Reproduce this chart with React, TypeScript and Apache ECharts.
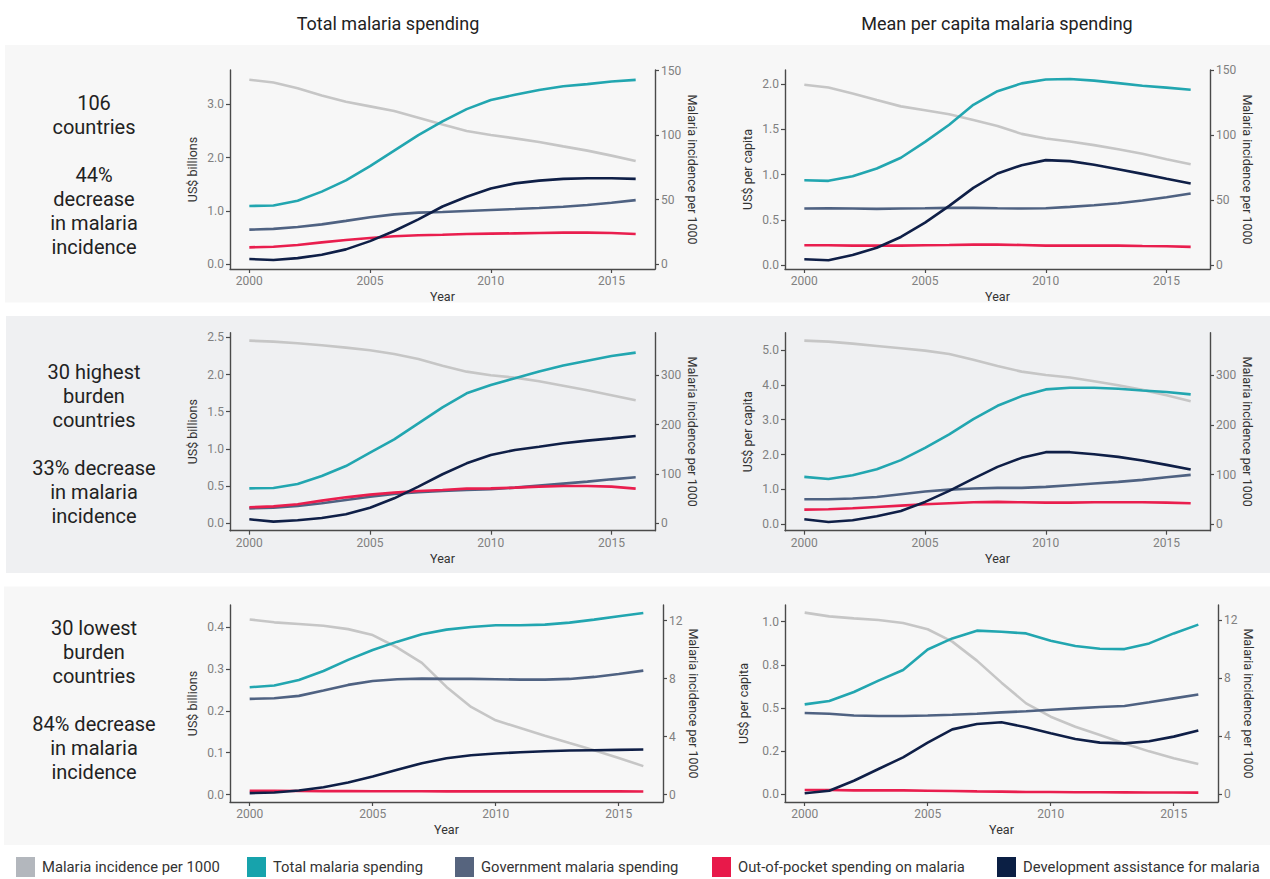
import React, { useEffect, useRef } from "react";
import * as echarts from "echarts";

// ---------- data ----------
const years = [2000, 2001, 2002, 2003, 2004, 2005, 2006, 2007, 2008, 2009, 2010, 2011, 2012, 2013, 2014, 2015, 2016];
const seriesNames = [
  "Malaria incidence per 1000",
  "Total malaria spending",
  "Government malaria spending",
  "Out-of-pocket spending on malaria",
  "Development assistance for malaria",
];
const columnTitles = ["Total malaria spending", "Mean per capita malaria spending"];
const rowLabels = [
  "106\ncountries\n\n44%\ndecrease\nin malaria\nincidence",
  "30 highest\nburden\ncountries\n\n33% decrease\nin malaria\nincidence",
  "30 lowest\nburden\ncountries\n\n84% decrease\nin malaria\nincidence",
];
const leftAxisNames = ["US$ billions", "US$ per capita", "US$ billions", "US$ per capita", "US$ billions", "US$ per capita"];
const rightAxisName = "Malaria incidence per 1000";
const xAxisName = "Year";
const xTicks = [2000, 2005, 2010, 2015];

// Panel 1: Total spending, 106 countries
const p1Incidence = [142.8, 140.7, 136.3, 130.7, 125.8, 122.2, 118.6, 113.4, 108.2, 103.1, 100.0, 97.4, 94.6, 91.2, 87.9, 84.0, 79.9];
const p1Total = [1.09, 1.10, 1.19, 1.36, 1.57, 1.84, 2.13, 2.42, 2.68, 2.91, 3.08, 3.18, 3.27, 3.34, 3.38, 3.43, 3.46];
const p1Gov = [0.645, 0.66, 0.695, 0.745, 0.81, 0.877, 0.933, 0.965, 0.977, 0.996, 1.015, 1.033, 1.052, 1.077, 1.109, 1.152, 1.20];
const p1Oop = [0.313, 0.325, 0.357, 0.407, 0.45, 0.489, 0.52, 0.539, 0.551, 0.564, 0.57, 0.576, 0.582, 0.589, 0.589, 0.582, 0.564];
const p1Dev = [0.094, 0.075, 0.11, 0.175, 0.275, 0.43, 0.62, 0.84, 1.08, 1.265, 1.42, 1.515, 1.566, 1.60, 1.61, 1.61, 1.60];

// Panel 2: Per capita, 106 countries
const p2Incidence = [139.0, 136.9, 132.3, 127.2, 122.3, 119.3, 116.2, 111.8, 107.2, 101.1, 97.5, 95.2, 92.4, 89.3, 85.7, 81.6, 77.6];
const p2Total = [0.937, 0.93, 0.98, 1.066, 1.185, 1.36, 1.55, 1.77, 1.92, 2.007, 2.05, 2.055, 2.037, 2.01, 1.98, 1.96, 1.937];
const p2Gov = [0.624, 0.627, 0.624, 0.62, 0.624, 0.627, 0.631, 0.631, 0.627, 0.624, 0.627, 0.642, 0.66, 0.683, 0.712, 0.749, 0.79];
const p2Oop = [0.218, 0.218, 0.214, 0.214, 0.214, 0.218, 0.221, 0.225, 0.225, 0.221, 0.214, 0.214, 0.214, 0.214, 0.21, 0.207, 0.2];
const p2Dev = [0.063, 0.052, 0.11, 0.19, 0.31, 0.469, 0.653, 0.852, 1.011, 1.103, 1.159, 1.148, 1.107, 1.059, 1.007, 0.952, 0.90];

// Panel 3: Total spending, 30 highest burden
const p3Incidence = [370.3, 368.2, 364.9, 360.8, 356.1, 350.7, 343.2, 333.1, 319.6, 307.4, 300.0, 295.3, 287.8, 279.0, 269.6, 259.5, 249.3];
const p3Total = [0.47, 0.475, 0.529, 0.636, 0.77, 0.95, 1.129, 1.344, 1.559, 1.747, 1.86, 1.949, 2.04, 2.12, 2.186, 2.249, 2.294];
const p3Gov = [0.20, 0.21, 0.233, 0.269, 0.314, 0.358, 0.394, 0.417, 0.435, 0.448, 0.457, 0.479, 0.506, 0.533, 0.56, 0.591, 0.618];
const p3Oop = [0.215, 0.228, 0.255, 0.305, 0.349, 0.385, 0.412, 0.435, 0.448, 0.466, 0.47, 0.479, 0.493, 0.502, 0.502, 0.493, 0.466];
const p3Dev = [0.054, 0.022, 0.04, 0.072, 0.121, 0.21, 0.336, 0.493, 0.659, 0.806, 0.918, 0.986, 1.03, 1.075, 1.111, 1.142, 1.174];

// Panel 4: Per capita, 30 highest burden
const p4Incidence = [369.7, 367.7, 363.7, 359.0, 354.3, 349.6, 342.9, 331.5, 318.8, 307.4, 300.7, 295.4, 288.0, 280.0, 270.6, 259.9, 247.8];
const p4Total = [1.36, 1.30, 1.408, 1.58, 1.84, 2.19, 2.577, 3.017, 3.40, 3.678, 3.87, 3.918, 3.918, 3.889, 3.84, 3.793, 3.726];
const p4Gov = [0.718, 0.718, 0.738, 0.785, 0.862, 0.939, 0.996, 1.025, 1.044, 1.044, 1.073, 1.121, 1.169, 1.216, 1.274, 1.351, 1.418];
const p4Oop = [0.421, 0.431, 0.46, 0.498, 0.536, 0.575, 0.603, 0.632, 0.642, 0.632, 0.623, 0.623, 0.632, 0.632, 0.632, 0.623, 0.603];
const p4Dev = [0.144, 0.067, 0.115, 0.23, 0.383, 0.642, 0.958, 1.312, 1.648, 1.906, 2.069, 2.069, 2.011, 1.935, 1.83, 1.705, 1.571];

// Panel 5: Total spending, 30 lowest burden
const p5Incidence = [12.09, 11.89, 11.77, 11.65, 11.42, 11.01, 10.15, 9.09, 7.43, 6.05, 5.12, 4.59, 4.06, 3.55, 3.05, 2.52, 1.96];
const p5Total = [0.2566, 0.2606, 0.274, 0.2956, 0.322, 0.3458, 0.3657, 0.3833, 0.3944, 0.4008, 0.4048, 0.4048, 0.4064, 0.4112, 0.4183, 0.4263, 0.4343];
const p5Gov = [0.2287, 0.2303, 0.2359, 0.2486, 0.2622, 0.2717, 0.2757, 0.2773, 0.2765, 0.2765, 0.2757, 0.2749, 0.2749, 0.2765, 0.2813, 0.2884, 0.2964];
const p5Oop = [0.009, 0.009, 0.0085, 0.008, 0.008, 0.0078, 0.0077, 0.0076, 0.0075, 0.0075, 0.0075, 0.0075, 0.0075, 0.0075, 0.0076, 0.0075, 0.007];
const p5Dev = [0.0032, 0.0048, 0.0096, 0.0175, 0.0287, 0.043, 0.059, 0.0749, 0.0869, 0.094, 0.098, 0.1012, 0.1036, 0.1052, 0.106, 0.1068, 0.1076];

// Panel 6: Per capita, 30 lowest burden
const p6Incidence = [12.51, 12.25, 12.11, 12.0, 11.79, 11.36, 10.51, 9.2, 7.68, 6.25, 5.33, 4.64, 4.07, 3.49, 2.94, 2.46, 2.07];
const p6Total = [0.52, 0.54, 0.592, 0.658, 0.72, 0.839, 0.903, 0.948, 0.942, 0.932, 0.89, 0.859, 0.843, 0.841, 0.874, 0.932, 0.983];
const p6Gov = [0.47, 0.466, 0.456, 0.453, 0.453, 0.456, 0.46, 0.466, 0.474, 0.48, 0.489, 0.497, 0.505, 0.511, 0.532, 0.555, 0.578];
const p6Oop = [0.023, 0.023, 0.021, 0.021, 0.021, 0.019, 0.017, 0.015, 0.0135, 0.0116, 0.0116, 0.01, 0.01, 0.0095, 0.009, 0.0085, 0.008];
const p6Dev = [0.004, 0.019, 0.077, 0.145, 0.213, 0.298, 0.375, 0.406, 0.416, 0.387, 0.352, 0.319, 0.298, 0.294, 0.306, 0.333, 0.369];

// tick values and labels
const p1LeftTicks = [0, 1, 2, 3];
const p1LeftLabels = ["0.0", "1.0", "2.0", "3.0"];
const p2LeftTicks = [0, 0.5, 1, 1.5, 2];
const p2LeftLabels = ["0.0", "0.5", "1.0", "1.5", "2.0"];
const p3LeftTicks = [0, 0.5, 1, 1.5, 2, 2.5];
const p3LeftLabels = ["0.0", "0.5", "1.0", "1.5", "2.0", "2.5"];
const p4LeftTicks = [0, 1, 2, 3, 4, 5];
const p4LeftLabels = ["0.0", "1.0", "2.0", "3.0", "4.0", "5.0"];
const p5LeftTicks = [0, 0.1, 0.2, 0.3, 0.4];
const p5LeftLabels = ["0.0", "0.1", "0.2", "0.3", "0.4"];
const p6LeftTicks = [0, 0.25, 0.5, 0.75, 1];
const p6LeftLabels = ["0.0", "0.2", "0.5", "0.8", "1.0"];
const rightTicksTop = [0, 50, 100, 150];
const rightTicksMid = [0, 100, 200, 300];
const rightTicksLow = [0, 4, 8, 12];

const panelData = [
  { series: [p1Incidence, p1Total, p1Gov, p1Oop, p1Dev], lt: p1LeftTicks, ll: p1LeftLabels, rt: rightTicksTop },
  { series: [p2Incidence, p2Total, p2Gov, p2Oop, p2Dev], lt: p2LeftTicks, ll: p2LeftLabels, rt: rightTicksTop },
  { series: [p3Incidence, p3Total, p3Gov, p3Oop, p3Dev], lt: p3LeftTicks, ll: p3LeftLabels, rt: rightTicksMid },
  { series: [p4Incidence, p4Total, p4Gov, p4Oop, p4Dev], lt: p4LeftTicks, ll: p4LeftLabels, rt: rightTicksMid },
  { series: [p5Incidence, p5Total, p5Gov, p5Oop, p5Dev], lt: p5LeftTicks, ll: p5LeftLabels, rt: rightTicksLow },
  { series: [p6Incidence, p6Total, p6Gov, p6Oop, p6Dev], lt: p6LeftTicks, ll: p6LeftLabels, rt: rightTicksLow },
];

// ---------- layout & style ----------
const FONT = "Roboto, 'Noto Sans', sans-serif";
const lineColors = ["#c6c6c6", "#22a6b0", "#4f6282", "#e91e4e", "#0f1f47"];
const legendColors = ["#b3b7bd", "#17a3ac", "#56647e", "#e8194a", "#0b1f44"];
const legendLeft = [16, 247, 455, 712, 997];

// pixel layout of each panel: plot box, pixel of zero, pixels per unit (left / right axes)
const panelLayout = [
  { l: 230, r: 655, t: 70, b: 269, y0L: 264, pL: 53.22, y0R: 264, pR: 1.29, gapL: 31, gapR: 31 },
  { l: 785, r: 1210, t: 70, b: 269, y0L: 265, pL: 90.5, y0R: 265, pR: 1.297, gapL: 31, gapR: 31 },
  { l: 230, r: 655, t: 332.7, b: 530.7, y0L: 523.3, pL: 74.4, y0R: 523.3, pR: 0.4933, gapL: 31, gapR: 31 },
  { l: 785, r: 1210, t: 332.7, b: 530.7, y0L: 524.3, pL: 34.86, y0R: 524.3, pR: 0.4967, gapL: 31, gapR: 31 },
  { l: 230, r: 663, t: 605, b: 802, y0L: 794.5, pL: 418, y0R: 794.5, pR: 14.48, gapL: 31, gapR: 23.5 },
  { l: 785, r: 1218, t: 605, b: 802, y0L: 794, pL: 172.3, y0R: 794, pR: 14.5, gapL: 35, gapR: 23.5 },
];

const AXIS_COLOR = "#4a4a4a";
const LABEL_COLOR = "#808080";
const NAME_COLOR = "#333333";

function labelFor(ticks: number[], labels: string[]) {
  return (v: number) => {
    const i = ticks.findIndex((t) => Math.abs(t - v) < 1e-9);
    return i >= 0 ? labels[i] : "";
  };
}

function buildOption() {
  const grid = panelLayout.map((p) => ({
    left: p.l,
    top: p.t,
    width: p.r - p.l,
    height: p.b - p.t,
    containLabel: false,
  }));

  const axisLine = { show: true, onZero: false, lineStyle: { color: AXIS_COLOR, width: 1.4 } };
  const axisTickStyle = { color: AXIS_COLOR, width: 1.2 };

  const xAxis = panelLayout.map((p, i) => ({
    type: "value",
    gridIndex: i,
    min: 1999.2,
    max: 2016.8,
    axisLine,
    axisTick: { show: true, length: 4, customValues: xTicks, lineStyle: axisTickStyle },
    axisLabel: {
      customValues: xTicks,
      formatter: (v: number) => String(v),
      color: LABEL_COLOR,
      fontSize: 12,
      fontFamily: FONT,
      margin: 6,
    },
    splitLine: { show: false },
    name: xAxisName,
    nameLocation: "middle",
    nameGap: 21,
    nameTextStyle: { color: NAME_COLOR, fontSize: 12.5, fontFamily: FONT },
  }));

  const yAxis: any[] = [];
  panelLayout.forEach((p, i) => {
    const d = panelData[i];
    yAxis.push({
      type: "value",
      gridIndex: i,
      position: "left",
      min: -(p.b - p.y0L) / p.pL,
      max: (p.y0L - p.t) / p.pL,
      axisLine,
      axisTick: { show: true, length: 4, customValues: d.lt, lineStyle: axisTickStyle },
      axisLabel: {
        customValues: d.lt,
        formatter: labelFor(d.lt, d.ll),
        color: LABEL_COLOR,
        fontSize: 12,
        fontFamily: FONT,
        margin: 6,
      },
      splitLine: { show: false },
      name: leftAxisNames[i],
      nameLocation: "middle",
      nameGap: p.gapL,
      nameTextStyle: { color: NAME_COLOR, fontSize: 12.5, fontFamily: FONT },
    });
    yAxis.push({
      type: "value",
      gridIndex: i,
      position: "right",
      min: -(p.b - p.y0R) / p.pR,
      max: (p.y0R - p.t) / p.pR,
      axisLine,
      axisTick: { show: true, length: 4, customValues: d.rt, lineStyle: axisTickStyle },
      axisLabel: {
        customValues: d.rt,
        formatter: (v: number) => String(v),
        color: LABEL_COLOR,
        fontSize: 12,
        fontFamily: FONT,
        margin: 6,
      },
      splitLine: { show: false },
      name: rightAxisName,
      nameLocation: "middle",
      nameRotate: -90,
      nameGap: p.gapR,
      nameTextStyle: { color: NAME_COLOR, fontSize: 12.5, fontFamily: FONT },
    });
  });

  const series: any[] = [];
  panelData.forEach((d, i) => {
    d.series.forEach((vals, k) => {
      series.push({
        type: "line",
        name: seriesNames[k],
        xAxisIndex: i,
        yAxisIndex: k === 0 ? 2 * i + 1 : 2 * i,
        data: years.map((y, j) => [y, vals[j]]),
        symbol: "none",
        showSymbol: false,
        lineStyle: { color: lineColors[k], width: 2.6 },
        itemStyle: { color: lineColors[k] },
        z: 2 + k,
        silent: true,
      });
    });
  });

  const legend = seriesNames.map((n, i) => ({
    data: [{ name: n, icon: "rect", itemStyle: { color: legendColors[i], borderWidth: 0 } }],
    left: legendLeft[i],
    top: 857,
    itemWidth: 19,
    itemHeight: 20,
    padding: 0,
    selectedMode: false,
    textStyle: { fontSize: 14.8, color: "#333333", fontFamily: FONT, padding: [0, 0, 0, 2] },
  }));

  const graphic: any[] = [
    { type: "rect", shape: { x: 5, y: 45, width: 1265, height: 257.5 }, style: { fill: "#f7f7f7" }, z: -10, silent: true },
    { type: "rect", shape: { x: 6, y: 316, width: 1264, height: 257 }, style: { fill: "#eff0f2" }, z: -10, silent: true },
    { type: "rect", shape: { x: 4, y: 586.5, width: 1266, height: 258.5 }, style: { fill: "#f7f7f7" }, z: -10, silent: true },
    {
      type: "text", x: 388, y: 23, z: 10, silent: true,
      style: { text: columnTitles[0], fontSize: 18, fontFamily: FONT, fill: "#222222", textAlign: "center", textVerticalAlign: "middle" },
    },
    {
      type: "text", x: 997, y: 23, z: 10, silent: true,
      style: { text: columnTitles[1], fontSize: 18, fontFamily: FONT, fill: "#222222", textAlign: "center", textVerticalAlign: "middle" },
    },
  ];
  const rowCenters = [175, 444, 700];
  rowLabels.forEach((t, i) => {
    graphic.push({
      type: "text", x: 94, y: rowCenters[i], z: 10, silent: true,
      style: { text: t, fontSize: 20, lineHeight: 24, fontFamily: FONT, fill: "#222222", textAlign: "center", textVerticalAlign: "middle" },
    });
  });

  return {
    animation: false,
    backgroundColor: "#ffffff",
    textStyle: { fontFamily: FONT },
    grid,
    xAxis,
    yAxis,
    series,
    legend,
    graphic,
  };
}

export default function App() {
  const ref = useRef<HTMLDivElement>(null);
  useEffect(() => {
    document.body.style.margin = "0";
    const chart = echarts.init(ref.current as HTMLDivElement, undefined, { renderer: "svg", width: 1270, height: 879 });
    chart.setOption(buildOption() as any);
    return () => {
      chart.dispose();
    };
  }, []);
  return <div ref={ref} style={{ width: 1270, height: 879, position: "absolute", left: 0, top: 0 }} />;
}
